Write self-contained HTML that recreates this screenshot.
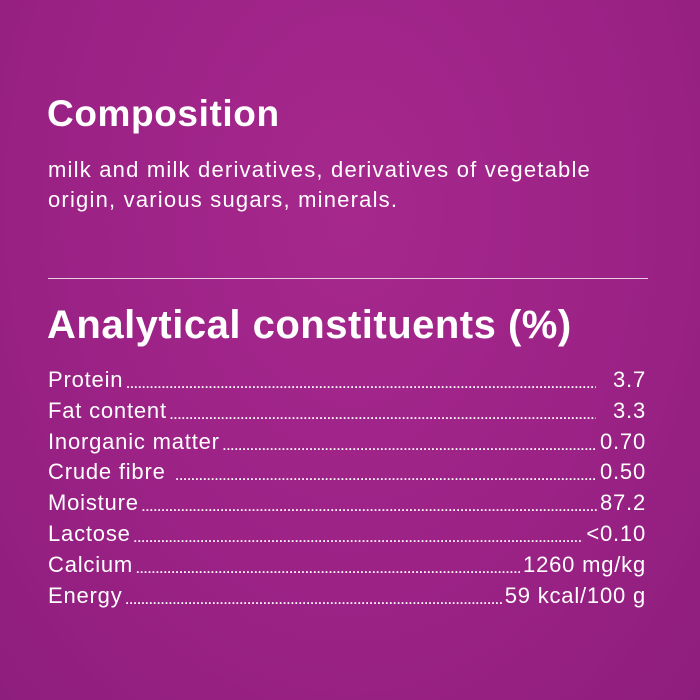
<!DOCTYPE html>
<html><head><style>
html,body{margin:0;padding:0}
body{width:700px;height:700px;overflow:hidden;background:radial-gradient(ellipse at 50% 30%,#a6288d 0%,#9c2286 55%,#8e1e7d 100%);font-family:"Liberation Sans",sans-serif;color:#fff;position:relative}
.h{position:absolute;left:47px;font-weight:bold;margin:0}
.p{position:absolute;left:48px;top:155px;font-size:22px;letter-spacing:1.2px;line-height:30px;width:650px}
.hr{position:absolute;left:48px;top:278px;width:600px;height:1px;background:#e9cde4}
.rows{position:absolute;left:48px;top:365px;width:598px}
.r{display:flex;height:30.8px;line-height:30px;font-size:22px;letter-spacing:0.8px;white-space:nowrap}
.d{flex:1;overflow:hidden;font-size:12px;letter-spacing:0.6px;margin:0 3px;padding-top:4px;font-weight:bold}
</style></head><body>
<div class="h" style="top:93px;font-size:37px;letter-spacing:0.6px">Composition</div>
<div class="p">milk and milk derivatives, derivatives of vegetable<br>origin, various sugars, minerals.</div>
<div class="hr"></div>
<div class="h" style="top:303px;font-size:40px;letter-spacing:0.5px">Analytical constituents (%)</div>
<div class="rows">
<div class="r"><span>Protein</span><span class="d">........................................................................................................................................................</span><span>&nbsp;&nbsp;3.7</span></div>
<div class="r"><span>Fat content</span><span class="d">........................................................................................................................................................</span><span>&nbsp;&nbsp;3.3</span></div>
<div class="r"><span>Inorganic matter</span><span class="d">........................................................................................................................................................</span><span>0.70</span></div>
<div class="r"><span>Crude fibre&nbsp;</span><span class="d">........................................................................................................................................................</span><span>0.50</span></div>
<div class="r"><span>Moisture</span><span class="d">........................................................................................................................................................</span><span>87.2</span></div>
<div class="r"><span>Lactose</span><span class="d">........................................................................................................................................................</span><span>&lt;0.10</span></div>
<div class="r"><span>Calcium</span><span class="d">........................................................................................................................................................</span><span>1260 mg/kg</span></div>
<div class="r"><span>Energy</span><span class="d">........................................................................................................................................................</span><span>59 kcal/100 g</span></div>
</div>
</body></html>
